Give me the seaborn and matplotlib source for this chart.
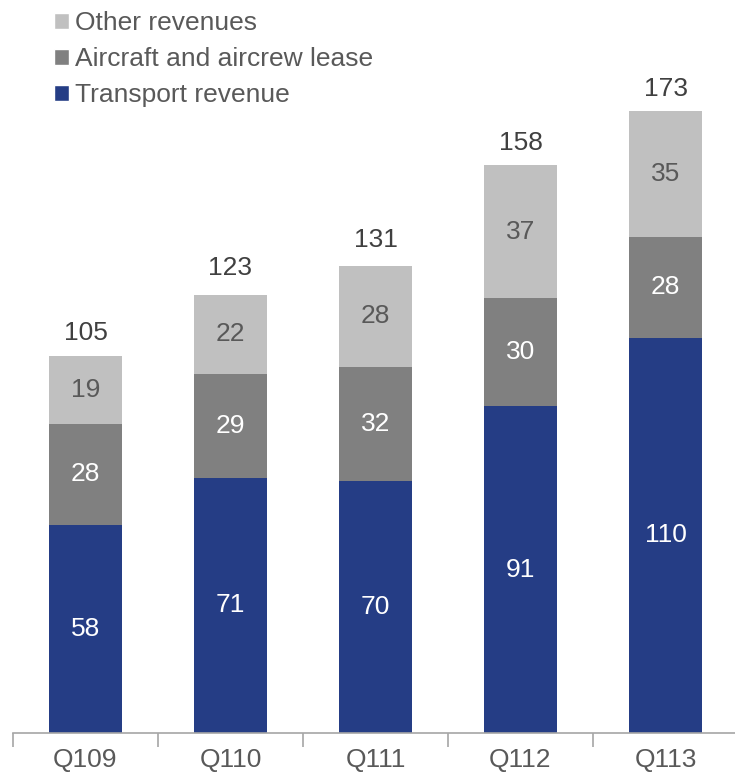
import matplotlib
matplotlib.use("Agg")
import matplotlib.pyplot as plt
from matplotlib.patches import Patch
import seaborn as sns
import pandas as pd
import numpy as np

quarters = ["Q109", "Q110", "Q111", "Q112", "Q113"]
transport = [58, 71, 70, 91, 110]
aircraft = [28, 29, 32, 30, 28]
other = [19, 22, 28, 37, 35]
totals = [105, 123, 131, 158, 173]
series_names = ["Other revenues", "Aircraft and aircrew lease", "Transport revenue"]

c_transport = "#253D85"
c_aircraft = "#808080"
c_other = "#C0C0C0"
txt = "#595959"

sns.set_theme(style="white")
plt.rcParams['font.family'] = ['Liberation Sans', 'DejaVu Sans']

fig = plt.figure(figsize=(7.35, 7.77), dpi=100)
ax = fig.add_axes([13/735, 44/777, 725/735, 733/777])

df = pd.DataFrame({"q": quarters, "t": transport, "a": aircraft, "o": other})
b1 = np.array(transport)
b2 = b1 + np.array(aircraft)

sns.barplot(data=df, x="q", y="t", color=c_transport, width=0.5, ax=ax, saturation=1, linewidth=0)
sns.barplot(data=df, x="q", y="a", color=c_aircraft, width=0.5, ax=ax, saturation=1, bottom=b1, linewidth=0)
sns.barplot(data=df, x="q", y="o", color=c_other, width=0.5, ax=ax, saturation=1, bottom=b2, linewidth=0)

fs = 19
for i in range(len(quarters)):
    ax.text(i, transport[i] / 2, str(transport[i]), ha="center", va="center", color="white", fontsize=fs)
    ax.text(i, b1[i] + aircraft[i] / 2, str(aircraft[i]), ha="center", va="center", color="white", fontsize=fs)
    ax.text(i, b2[i] + other[i] / 2, str(other[i]), ha="center", va="center", color=txt, fontsize=fs)
    ax.text(i, totals[i] + 3, str(totals[i]), ha="center", va="bottom", color="#404040", fontsize=fs)

ax.set_xlim(-0.5, 4.5)
ax.set_ylim(0, 204)
ax.set_xlabel("")
ax.set_ylabel("")
ax.set_yticks([])
for s in ["left", "right", "top"]:
    ax.spines[s].set_visible(False)
ax.spines["bottom"].set_color("#A6A6A6")
ax.spines["bottom"].set_linewidth(1.2)
ax.set_xticks(np.arange(-0.5, 5.0, 1.0), minor=True)
ax.tick_params(axis="x", which="minor", length=10, width=1.2, color="#A6A6A6", bottom=True)
ax.tick_params(axis="x", which="major", length=0, pad=11, labelsize=fs, labelcolor=txt)

handles = [Patch(facecolor=c_other, label=series_names[0]),
           Patch(facecolor=c_aircraft, label=series_names[1]),
           Patch(facecolor=c_transport, label=series_names[2])]
leg = fig.legend(handles=handles, loc="upper left", bbox_to_anchor=(54/735, 1.0 - 11/777),
                 frameon=False, fontsize=fs, handlelength=0.55, handleheight=0.55,
                 handletextpad=0.25, labelspacing=0.46, borderaxespad=0, borderpad=0.0)
for t in leg.get_texts():
    t.set_color(txt)

fig.savefig("out.png", dpi=100)
